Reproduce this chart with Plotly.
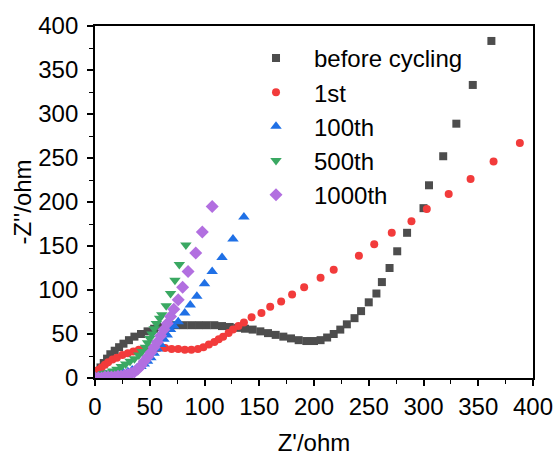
import plotly.graph_objects as go

# before cycling
bc_x = [1, 3, 5, 8, 11, 14, 18, 22, 26, 31, 36, 42, 48, 54, 60, 67, 74, 81, 88, 95, 102, 109, 116, 123,
        130, 137, 144, 151, 158, 165, 172, 179, 186, 193, 200, 206, 212, 218, 224, 230, 237, 243, 250,
        257, 262, 269, 276, 285, 300, 305, 318, 330, 345, 362]
bc_y = [3, 8, 12, 17, 22, 27, 31, 35, 39, 43, 47, 50, 53, 56, 58, 59, 60, 60, 60, 60, 60, 60, 59, 58,
        57, 56, 55, 53, 51, 49, 47, 45, 43, 42, 42, 43, 46, 50, 55, 61, 68, 76, 86,
        96, 109, 125, 144, 165, 193, 219, 252, 289, 333, 383]

# 1st
c1_x = [1, 3, 6, 9, 12, 16, 20, 25, 30, 35, 40, 46, 52, 58, 64, 70, 76, 82, 88, 94, 99, 104, 109, 113,
        117, 122, 126, 131, 136, 143, 152, 160, 170, 180, 191, 206, 218, 241, 255, 271, 289, 303, 323,
        343, 364, 388]
c1_y = [6, 9, 12, 15, 18, 21, 23, 26, 28, 30, 32, 33, 34, 34, 34, 33, 33, 32, 32, 33, 35, 38, 41, 44,
        47, 51, 55, 59, 63, 69, 74, 81, 87, 95, 103, 114, 123, 139, 152, 165, 178, 192, 209,
        226, 246, 267]

# 100th
c100_x = [0, 3, 6, 10, 14, 18, 22, 26, 30, 34, 38, 42, 45, 48, 51, 54, 57, 60, 63, 66, 69, 72, 76,
          82, 87, 93, 100, 107, 116, 126, 136]
c100_y = [1, 2, 3, 4, 4, 5, 5, 6, 7, 9, 11, 13, 16, 19, 23, 28, 33, 38, 44, 49, 55, 59, 64,
          74, 83, 93, 107, 121, 137, 158, 183]

# 500th
c500_x = [1, 4, 8, 12, 16, 20, 24, 28, 32, 36, 40, 43, 46, 48, 50, 52, 54, 56, 59, 61, 65, 69, 73, 77, 83]
c500_y = [2, 3, 5, 6, 8, 10, 13, 16, 19, 22, 26, 30, 35, 40, 45, 50, 56, 62, 68, 72, 82, 96, 111, 129, 151]

# 1000th
c1000_x = [0, 3, 6, 9, 12, 15, 18, 21, 24, 27, 30, 33, 36, 39, 42, 45, 48, 51, 54, 57, 60, 63, 66,
           69, 72, 76, 80, 85, 92, 98, 107]
c1000_y = [0, 0, 0, 1, 1, 1, 1, 2, 2, 3, 4, 5, 7, 10, 14, 19, 24, 29, 35, 41, 48, 55, 62,
           70, 78, 89, 103, 121, 142, 166, 195]

names = ["before cycling", "1st", "100th", "500th", "1000th"]
xs = [bc_x, c1_x, c100_x, c500_x, c1000_x]
ys = [bc_y, c1_y, c100_y, c500_y, c1000_y]
colors = ["#4d4d4d", "#f23b3b", "#1f70e6", "#3aa862", "#b26fe0"]
symbols = ["square", "circle", "triangle-up", "triangle-down", "diamond"]
sizes = [8, 8, 10, 10, 10]

fig = go.Figure()
for i in range(5):
    fig.add_trace(go.Scatter(
        x=xs[i], y=ys[i], mode="markers", name=names[i],
        marker=dict(symbol=symbols[i], size=sizes[i], color=colors[i], line=dict(width=0)),
    ))

font_family = "Liberation Sans, Arial, sans-serif"
axis_common = dict(
    showline=True, linecolor="black", linewidth=1.8, mirror=True,
    ticks="outside", ticklen=6, tickwidth=1.5, tickcolor="black",
    showgrid=False, zeroline=False, automargin=False,
    tickfont=dict(size=24, color="black", family=font_family),
    minor=dict(ticks="outside", ticklen=4, tickwidth=1.2, tickcolor="black", dtick=25),
)

fig.update_layout(
    width=558, height=456,
    margin=dict(l=95, r=25, t=26, b=78),
    paper_bgcolor="white", plot_bgcolor="white",
    font=dict(family=font_family, color="black"),
    xaxis=dict(range=[0, 400], dtick=50, tick0=0,
               title=dict(text="Z'/ohm", font=dict(size=24), standoff=17), **axis_common),
    yaxis=dict(range=[0, 400], dtick=50, tick0=0, ticklabelstandoff=4,
               title=dict(text="-Z''/ohm", font=dict(size=24), standoff=0), **axis_common),
    legend=dict(x=0.3265, y=0.972, xanchor="left", yanchor="top",
                bgcolor="rgba(0,0,0,0)", borderwidth=0,
                font=dict(size=24, family=font_family, color="black"),
                itemwidth=66),
    showlegend=True,
)

fig.write_html("out.html", config={"displayModeBar": False},
               post_script="document.body.style.margin='0';")
